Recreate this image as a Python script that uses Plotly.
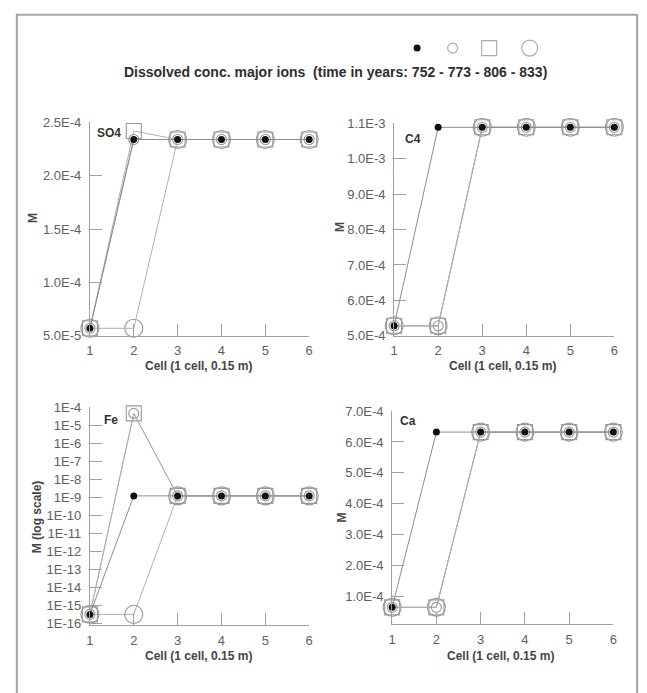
import plotly.graph_objects as go

W, H = 647, 693

# ---------------------------------------------------------------- data
cells = [1, 2, 3, 4, 5, 6]
years = ["752", "773", "806", "833"]

# Dissolved SO4 (M) per cell
so4_752 = [5.7e-5, 2.34e-4, 2.34e-4, 2.34e-4, 2.34e-4, 2.34e-4]
so4_773 = [5.7e-5, 2.34e-4, 2.34e-4, 2.34e-4, 2.34e-4, 2.34e-4]
so4_806 = [5.7e-5, 2.42e-4, 2.34e-4, 2.34e-4, 2.34e-4, 2.34e-4]
so4_833 = [5.7e-5, 5.7e-5, 2.34e-4, 2.34e-4, 2.34e-4, 2.34e-4]

# Dissolved C4 (M) per cell
c4_752 = [5.28e-4, 1.089e-3, 1.089e-3, 1.089e-3, 1.089e-3, 1.089e-3]
c4_773 = [5.28e-4, 5.28e-4, 1.089e-3, 1.089e-3, 1.089e-3, 1.089e-3]
c4_806 = [5.28e-4, 5.28e-4, 1.089e-3, 1.089e-3, 1.089e-3, 1.089e-3]
c4_833 = [5.28e-4, 5.28e-4, 1.089e-3, 1.089e-3, 1.089e-3, 1.089e-3]

# Dissolved Fe (M) per cell
fe_752 = [3.2e-16, 1.2e-9, 1.2e-9, 1.2e-9, 1.2e-9, 1.2e-9]
fe_773 = [3.2e-16, 4.5e-5, 1.2e-9, 1.2e-9, 1.2e-9, 1.2e-9]
fe_806 = [3.2e-16, 4.5e-5, 1.2e-9, 1.2e-9, 1.2e-9, 1.2e-9]
fe_833 = [3.2e-16, 3.2e-16, 1.2e-9, 1.2e-9, 1.2e-9, 1.2e-9]

# Dissolved Ca (M) per cell
ca_752 = [6.5e-5, 6.32e-4, 6.32e-4, 6.32e-4, 6.32e-4, 6.32e-4]
ca_773 = [6.5e-5, 6.5e-5, 6.32e-4, 6.32e-4, 6.32e-4, 6.32e-4]
ca_806 = [6.5e-5, 6.5e-5, 6.32e-4, 6.32e-4, 6.32e-4, 6.32e-4]
ca_833 = [6.5e-5, 6.5e-5, 6.32e-4, 6.32e-4, 6.32e-4, 6.32e-4]

# axis ticks
so4_tickvals = [5e-5, 1e-4, 1.5e-4, 2e-4, 2.5e-4]
so4_ticktext = ["5.0E-5", "1.0E-4", "1.5E-4", "2.0E-4", "2.5E-4"]
c4_tickvals = [5e-4, 6e-4, 7e-4, 8e-4, 9e-4, 1e-3, 1.1e-3]
c4_ticktext = ["5.0E-4", "6.0E-4", "7.0E-4", "8.0E-4", "9.0E-4", "1.0E-3", "1.1E-3"]
fe_tickvals = [1e-16, 1e-15, 1e-14, 1e-13, 1e-12, 1e-11, 1e-10,
               1e-9, 1e-8, 1e-7, 1e-6, 1e-5, 1e-4]
fe_ticktext = ["1E-16", "1E-15", "1E-14", "1E-13", "1E-12", "1E-11", "1E-10",
               "1E-9", "1E-8", "1E-7", "1E-6", "1E-5", "1E-4"]
ca_tickvals = [1e-4, 2e-4, 3e-4, 4e-4, 5e-4, 6e-4, 7e-4]
ca_ticktext = ["1.0E-4", "2.0E-4", "3.0E-4", "4.0E-4", "5.0E-4", "6.0E-4", "7.0E-4"]

# ---------------------------------------------------------------- styles
FONT = "Liberation Sans, Arial, sans-serif"
AXIS_GRAY = "#a0a0a0"
MARK_GRAY = "#999999"
TICK_TEXT = "#606060"

# one marker style per time step
styles = {
    "752": dict(symbol="circle", size=7, color="#111111", lw=0, lc="#8c8c8c"),
    "773": dict(symbol="circle-open", size=10, color=MARK_GRAY, lw=1.1, lc="#b0b0b0"),
    "806": dict(symbol="square-open", size=15, color=MARK_GRAY, lw=1.1, lc="#b0b0b0"),
    "833": dict(symbol="circle-open", size=18, color=MARK_GRAY, lw=1.1, lc="#b0b0b0"),
}
draw_order = ["833", "806", "773", "752"]


def xdom(a, b):
    return [a / W, b / W]


def ydom(top, bottom):
    return [1 - bottom / H, 1 - top / H]


panels = [
    dict(label="SO4", series=dict(zip(years, [so4_752, so4_773, so4_806, so4_833])),
         xpx=(87, 309), ypx=(118, 336), ytype="linear", yrange=[5e-5, 2.5e-4],
         tickvals=so4_tickvals, ticktext=so4_ticktext,
         ytitle="M", ytitle_xy=(30, 216), label_xy=(92, 129), xtitle_xy=(197, 367)),
    dict(label="C4", series=dict(zip(years, [c4_752, c4_773, c4_806, c4_833])),
         xpx=(395, 618), ypx=(119, 336), ytype="linear", yrange=[5e-4, 1.1e-3],
         tickvals=c4_tickvals, ticktext=c4_ticktext,
         ytitle="M", ytitle_xy=(340, 225), label_xy=(404, 135), xtitle_xy=(505, 367)),
    dict(label="Fe", series=dict(zip(years, [fe_752, fe_773, fe_806, fe_833])),
         xpx=(87, 309), ypx=(409, 632), ytype="log", yrange=[-16.1, -4],
         tickvals=fe_tickvals, ticktext=fe_ticktext,
         ytitle="M (log scale)", ytitle_xy=(33, 521), label_xy=(99, 422), xtitle_xy=(197, 663)),
    dict(label="Ca", series=dict(zip(years, [ca_752, ca_773, ca_806, ca_833])),
         xpx=(393, 617), ypx=(413, 631), ytype="linear", yrange=[1e-5, 7e-4],
         tickvals=ca_tickvals, ticktext=ca_ticktext,
         ytitle="M", ytitle_xy=(342, 522), label_xy=(399, 423), xtitle_xy=(503, 663)),
]

fig = go.Figure()
annotations = []
layout_axes = {}

for i, p in enumerate(panels, start=1):
    xa = "x" if i == 1 else f"x{i}"
    ya = "y" if i == 1 else f"y{i}"
    for yr in draw_order:
        st = styles[yr]
        fig.add_trace(go.Scatter(
            x=cells, y=p["series"][yr], xaxis=xa, yaxis=ya,
            mode="lines+markers", name=yr, showlegend=False,
            cliponaxis=False, hoverinfo="skip",
            line=dict(color=st["lc"], width=1),
            marker=dict(symbol=st["symbol"], size=st["size"], color=st["color"],
                        line=dict(width=st["lw"], color=st["color"])),
        ))

    key = "" if i == 1 else str(i)
    layout_axes[f"xaxis{key}"] = dict(
        domain=xdom(*p["xpx"]), anchor=ya, range=[1, 6],
        tickmode="array", tickvals=cells, ticktext=[str(c) for c in cells],
        showline=True, linecolor=AXIS_GRAY, linewidth=1,
        ticks="inside", ticklen=12, tickcolor=AXIS_GRAY, tickwidth=1,
        ticklabelstandoff=3,
        tickfont=dict(family=FONT, size=13, color=TICK_TEXT),
        showgrid=False, zeroline=False, fixedrange=True,
    )
    layout_axes[f"yaxis{key}"] = dict(
        domain=ydom(*p["ypx"]), anchor=xa, type=p["ytype"], range=p["yrange"],
        tickmode="array", tickvals=p["tickvals"], ticktext=p["ticktext"],
        showline=True, linecolor=AXIS_GRAY, linewidth=1,
        ticks="inside", ticklen=12, tickcolor=AXIS_GRAY, tickwidth=1,
        ticklabelstandoff=5,
        tickfont=dict(family=FONT, size=13, color=TICK_TEXT),
        showgrid=False, zeroline=False, fixedrange=True,
    )

    # panel label, axis titles
    annotations.append(dict(
        text=f"<b>{p['label']}</b>", x=p["label_xy"][0] / W, y=1 - p["label_xy"][1] / H,
        xref="paper", yref="paper", xanchor="left", yanchor="middle", showarrow=False,
        font=dict(family=FONT, size=12, color="#333333")))
    annotations.append(dict(
        text=f"<b>{p['ytitle']}</b>", x=p["ytitle_xy"][0] / W, y=1 - p["ytitle_xy"][1] / H,
        xref="paper", yref="paper", xanchor="center", yanchor="middle", showarrow=False,
        textangle=-90, font=dict(family=FONT, size=12, color="#444444")))
    annotations.append(dict(
        text="<b>Cell (1 cell, 0.15 m)</b>", x=p["xtitle_xy"][0] / W, y=1 - p["xtitle_xy"][1] / H,
        xref="paper", yref="paper", xanchor="center", yanchor="middle", showarrow=False,
        font=dict(family=FONT, size=12, color="#444444")))

# key: one legend per time step, placed above its year in the title
legend_px = {"752": 418, "773": 454, "806": 491, "833": 532}
legend_layout = {}
for j, yr in enumerate(years, start=1):
    st = styles[yr]
    lname = "legend" if j == 1 else f"legend{j}"
    fig.add_trace(go.Scatter(
        x=[None], y=[None], mode="markers", name="", legend=lname,
        showlegend=True,
        marker=dict(symbol=st["symbol"], size=st["size"], color="#aaaaaa" if st["lw"] else st["color"],
                    line=dict(width=st["lw"], color="#aaaaaa")),
    ))
    legend_layout[lname] = dict(
        x=(legend_px[yr] - 20) / W, y=1 - 42 / H, xanchor="left", yanchor="middle",
        orientation="h", bgcolor="rgba(0,0,0,0)", borderwidth=0,
        itemsizing="trace", font=dict(family=FONT, size=12),
    )

annotations.append(dict(
    text="<b>Dissolved conc. major ions  (time in years: 752 - 773 - 806 - 833)</b>",
    x=336 / W, y=1 - 66 / H, xref="paper", yref="paper",
    xanchor="center", yanchor="middle", showarrow=False,
    font=dict(family=FONT, size=14, color="#2e2e2e")))

fig.update_layout(
    width=W, height=H,
    margin=dict(l=0, r=0, t=0, b=0),
    paper_bgcolor="white", plot_bgcolor="white",
    showlegend=True,
    annotations=annotations,
    shapes=[dict(type="rect", xref="paper", yref="paper",
                 x0=13 / W, x1=641 / W, y0=1 - 8 / H, y1=-0.05,
                 line=dict(color="#a6a6a6", width=2), layer="below")],
    **layout_axes,
    **legend_layout,
)

fig.write_html("out.html")
